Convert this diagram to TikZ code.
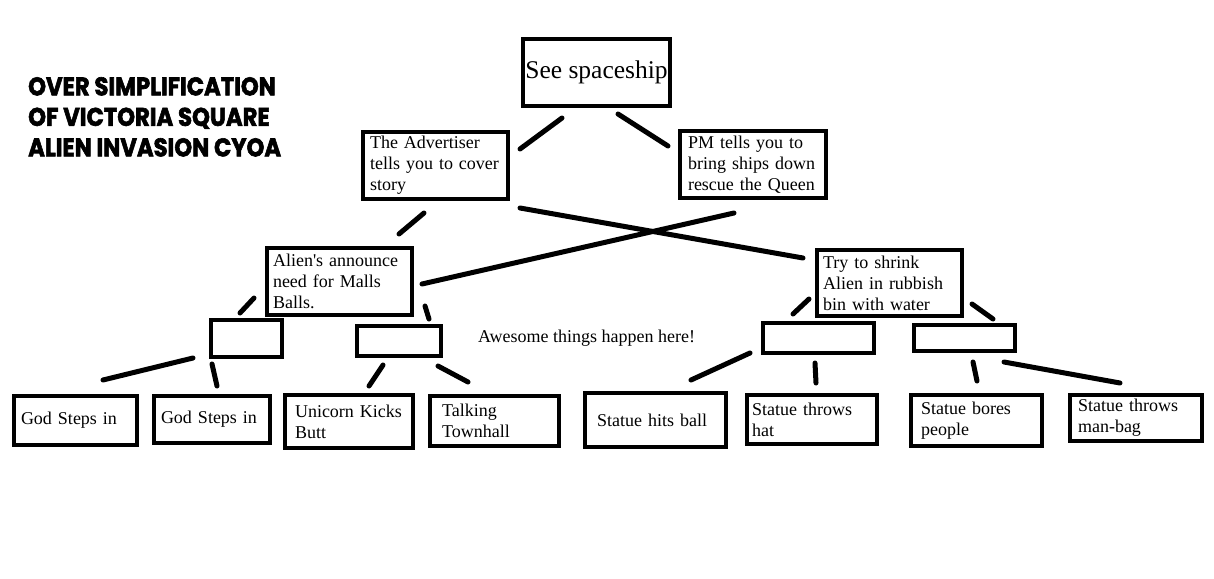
\documentclass[tikz,border=0pt]{standalone}
\usepackage{fontspec}
\setmainfont{Liberation Serif}
\newfontfamily\titlefont{Poppins}[BoldFeatures={FakeBold=2.5}]

\tikzset{
  choice/.style={draw, line width=4pt, align=left, inner ysep=0pt, font=\fontsize{18}{21}\selectfont},
  blank/.style={draw, line width=4pt, inner sep=0pt},
  link/.style={line width=5pt, line cap=round},
}
\newcommand{\squeeze}[1]{\scalebox{0.89}[1]{#1}}

\begin{document}
\begin{tikzpicture}[x=1pt,y=-1pt]
%\draw [help lines,black!20!white] (0,0) grid[step=50] (1214,578);
\useasboundingbox (0,0) rectangle (1214,578);

% title
\node[anchor=north west, align=left, inner sep=0pt, font=\titlefont\bfseries\fontsize{25.5}{30.5}\selectfont] (title) at (28,77)
  {\squeeze{OVER SIMPLIFICATION}\\ \squeeze{OF VICTORIA SQUARE}\\ \squeeze{ALIEN INVASION CYOA}};

% top
\node[draw, line width=4pt, inner sep=0pt, minimum width=147pt, minimum height=67pt, font=\fontsize{25.5}{28}\selectfont] (ship) at (596.5,72.5) {See spaceship};

% second row
\node[choice, inner xsep=7pt, text width=131pt, minimum width=145pt, minimum height=67pt] (adv) at (435.5,165.5) {The Advertiser\\ tells you to cover\\ story};
\node[choice, inner xsep=8pt, text width=130pt, minimum width=146pt, minimum height=67pt] (pm) at (753,164.5) {PM tells you to\\ bring ships down\\ rescue the Queen};

% third row
\node[choice, inner xsep=6pt, text width=133pt, minimum width=145pt, minimum height=67pt] (alien) at (339.5,281.5) {Alien\textquotesingle s announce\\ need for Malls\\ Balls.};
\node[choice, inner xsep=6pt, text width=133pt, minimum width=145pt, minimum height=66pt] (shrink) at (889.5,283) {Try to shrink\\ Alien in rubbish\\ bin with water};

\node[anchor=west, inner sep=0pt, font=\fontsize{18}{21}\selectfont] (awesome) at (478,338) {Awesome things happen here!};

% empty boxes
\node[blank, minimum width=71pt, minimum height=37pt] (s1) at (246.5,338.5) {};
\node[blank, minimum width=84pt, minimum height=30pt] (s2) at (399,341) {};
\node[blank, minimum width=111pt, minimum height=30pt] (s3) at (818.5,338) {};
\node[blank, minimum width=101pt, minimum height=26pt] (s4) at (964.5,338) {};

% bottom row
\node[choice, inner xsep=7pt, text width=109pt, minimum width=123pt, minimum height=49pt] (god1) at (75.5,420.5) {God Steps in};
\node[choice, inner xsep=7pt, text width=102pt, minimum width=116pt, minimum height=47pt] (god2) at (212,419.5) {God Steps in};
\node[choice, inner xsep=10pt, text width=108pt, minimum width=128pt, minimum height=53pt] (unicorn) at (349,421.5) {Unicorn Kicks\\ Butt};
\node[choice, inner xsep=12pt, text width=105pt, minimum width=129pt, minimum height=50pt] (talking) at (494.5,421) {Talking\\ Townhall};
\node[choice, inner xsep=12pt, text width=117pt, minimum width=141pt, minimum height=54pt] (hits) at (655.5,420) {Statue hits ball};
\node[choice, inner xsep=5pt, text width=120pt, minimum width=130pt, minimum height=49pt] (hat) at (812,419.5) {Statue throws\\ hat};
\node[choice, inner xsep=10pt, text width=111pt, minimum width=131pt, minimum height=51pt] (bores) at (976.5,420.5) {Statue bores\\ people};
\node[choice, inner xsep=8pt, text width=116pt, minimum width=132pt, minimum height=46pt] (manbag) at (1136,418) {Statue throws\\ man-bag};

% links
\draw[link] ([shift={(-34.5,10)}]ship.south) -- ([shift={(10,19)}]adv.north east);
\draw[link] ([shift={(21.5,6)}]ship.south) -- ([shift={(-10,17)}]pm.north west);
\draw[link] ([shift={(-11.5,12)}]adv.south) -- ([shift={(59.5,-12)}]alien.north);
\draw[link] ([shift={(10,7)}]adv.south east) -- ([shift={(-12,10)}]shrink.north west);
\draw[link] ([shift={(-19,13)}]pm.south) -- ([shift={(8,2.5)}]alien.east);

\draw[link] ([shift={(-11,-19)}]alien.south west) -- ([shift={(-6.5,-5)}]s1.north);
\draw[link] ([shift={(11,-11)}]alien.south east) -- ([shift={(-14,-5)}]s2.north east);
\draw[link] ([shift={(-6,-19)}]shrink.south west) -- ([shift={(-25.5,-7)}]s3.north);
\draw[link] ([shift={(8,-14)}]shrink.south east) -- ([shift={(-24,-4)}]s4.north east);

\draw[link] ([shift={(-16,-1)}]s1.south west) -- ([shift={(27.5,-14)}]god1.north);
\draw[link] ([shift={(3,5)}]s1.south west) -- ([shift={(5,-8)}]god2.north);
\draw[link] ([shift={(-16,7)}]s2.south) -- ([shift={(20,-7)}]unicorn.north);
\draw[link] ([shift={(-5,8)}]s2.south east) -- ([shift={(-26.5,-12)}]talking.north);
\draw[link] ([shift={(-11,-2)}]s3.south west) -- ([shift={(35.5,-11)}]hits.north);
\draw[link] ([shift={(-3.5,8)}]s3.south) -- ([shift={(4,-10)}]hat.north);
\draw[link] ([shift={(8.5,9)}]s4.south) -- ([shift={(0.5,-12)}]bores.north);
\draw[link] ([shift={(39.5,9)}]s4.south) -- ([shift={(-16,-10)}]manbag.north);

\end{tikzpicture}
\end{document}
